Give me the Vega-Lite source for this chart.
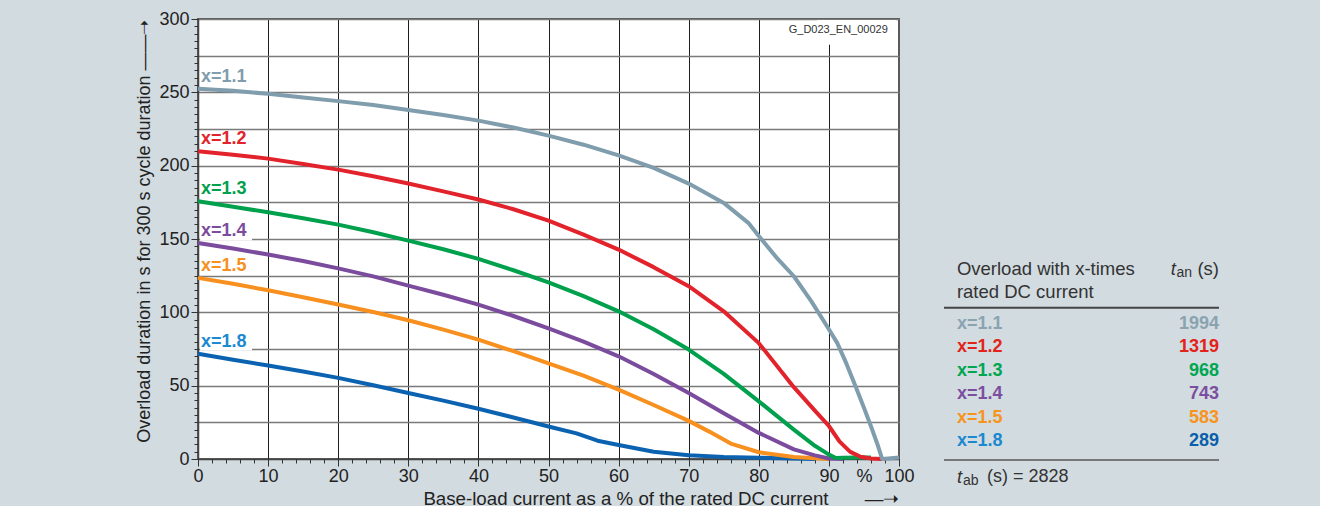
{
  "$schema": "https://vega.github.io/schema/vega-lite/v6.json",
  "background": "#d2dbe0",
  "padding": {"left": 134, "top": 9, "right": 100, "bottom": 10},
  "config": {"font": "Liberation Sans", "view": {"stroke": null}},
  "datasets": {
    "curves": [
      {"s": "x=1.8", "x": 0, "y": 71.7}, {"s": "x=1.8", "x": 5, "y": 67.7}, {"s": "x=1.8", "x": 10, "y": 63.7}, {"s": "x=1.8", "x": 15, "y": 59.6}, {"s": "x=1.8", "x": 20, "y": 55.3}, {"s": "x=1.8", "x": 25, "y": 50.3}, {"s": "x=1.8", "x": 30, "y": 45}, {"s": "x=1.8", "x": 35, "y": 39.8}, {"s": "x=1.8", "x": 40, "y": 34.3}, {"s": "x=1.8", "x": 45, "y": 28.3}, {"s": "x=1.8", "x": 50, "y": 22.2}, {"s": "x=1.8", "x": 54, "y": 17.5}, {"s": "x=1.8", "x": 57, "y": 12.5}, {"s": "x=1.8", "x": 60, "y": 9.6}, {"s": "x=1.8", "x": 65, "y": 5}, {"s": "x=1.8", "x": 70, "y": 2.6}, {"s": "x=1.8", "x": 75, "y": 1.4}, {"s": "x=1.8", "x": 80, "y": 0.9}, {"s": "x=1.8", "x": 85, "y": 0.4}, {"s": "x=1.8", "x": 88, "y": 0},
      {"s": "x=1.5", "x": 0, "y": 123.5}, {"s": "x=1.5", "x": 5, "y": 119.5}, {"s": "x=1.5", "x": 10, "y": 115}, {"s": "x=1.5", "x": 15, "y": 110.3}, {"s": "x=1.5", "x": 20, "y": 105.3}, {"s": "x=1.5", "x": 25, "y": 100.2}, {"s": "x=1.5", "x": 30, "y": 94.6}, {"s": "x=1.5", "x": 35, "y": 88.2}, {"s": "x=1.5", "x": 40, "y": 81.4}, {"s": "x=1.5", "x": 45, "y": 73.5}, {"s": "x=1.5", "x": 50, "y": 65.2}, {"s": "x=1.5", "x": 55, "y": 56.8}, {"s": "x=1.5", "x": 60, "y": 47.3}, {"s": "x=1.5", "x": 65, "y": 36.8}, {"s": "x=1.5", "x": 70, "y": 26}, {"s": "x=1.5", "x": 73, "y": 18.5}, {"s": "x=1.5", "x": 76, "y": 10.5}, {"s": "x=1.5", "x": 80, "y": 4.6}, {"s": "x=1.5", "x": 85, "y": 1.4}, {"s": "x=1.5", "x": 90, "y": 0},
      {"s": "x=1.4", "x": 0, "y": 147.3}, {"s": "x=1.4", "x": 5, "y": 143.5}, {"s": "x=1.4", "x": 10, "y": 139.4}, {"s": "x=1.4", "x": 15, "y": 135}, {"s": "x=1.4", "x": 20, "y": 130}, {"s": "x=1.4", "x": 25, "y": 124.5}, {"s": "x=1.4", "x": 30, "y": 118.2}, {"s": "x=1.4", "x": 35, "y": 112}, {"s": "x=1.4", "x": 40, "y": 105.3}, {"s": "x=1.4", "x": 45, "y": 97.5}, {"s": "x=1.4", "x": 50, "y": 89}, {"s": "x=1.4", "x": 55, "y": 80}, {"s": "x=1.4", "x": 60, "y": 70}, {"s": "x=1.4", "x": 65, "y": 58}, {"s": "x=1.4", "x": 70, "y": 45}, {"s": "x=1.4", "x": 75, "y": 31.2}, {"s": "x=1.4", "x": 80, "y": 17.8}, {"s": "x=1.4", "x": 85, "y": 6.6}, {"s": "x=1.4", "x": 88, "y": 2.5}, {"s": "x=1.4", "x": 90, "y": 0.3}, {"s": "x=1.4", "x": 92, "y": 0},
      {"s": "x=1.3", "x": 0, "y": 175.7}, {"s": "x=1.3", "x": 5, "y": 172}, {"s": "x=1.3", "x": 10, "y": 168.2}, {"s": "x=1.3", "x": 15, "y": 164.2}, {"s": "x=1.3", "x": 20, "y": 159.8}, {"s": "x=1.3", "x": 25, "y": 154.6}, {"s": "x=1.3", "x": 30, "y": 148.9}, {"s": "x=1.3", "x": 35, "y": 143}, {"s": "x=1.3", "x": 40, "y": 136.4}, {"s": "x=1.3", "x": 45, "y": 128.7}, {"s": "x=1.3", "x": 50, "y": 120.5}, {"s": "x=1.3", "x": 55, "y": 111}, {"s": "x=1.3", "x": 60, "y": 100.7}, {"s": "x=1.3", "x": 65, "y": 88.5}, {"s": "x=1.3", "x": 70, "y": 74.6}, {"s": "x=1.3", "x": 75, "y": 58}, {"s": "x=1.3", "x": 80, "y": 39.3}, {"s": "x=1.3", "x": 85, "y": 20}, {"s": "x=1.3", "x": 88, "y": 9}, {"s": "x=1.3", "x": 90, "y": 3}, {"s": "x=1.3", "x": 91, "y": 0.6}, {"s": "x=1.3", "x": 92, "y": 0.8}, {"s": "x=1.3", "x": 94, "y": 1}, {"s": "x=1.3", "x": 96, "y": 1},
      {"s": "x=1.2", "x": 0, "y": 209.8}, {"s": "x=1.2", "x": 5, "y": 207.5}, {"s": "x=1.2", "x": 10, "y": 204.8}, {"s": "x=1.2", "x": 15, "y": 201.2}, {"s": "x=1.2", "x": 20, "y": 197.3}, {"s": "x=1.2", "x": 25, "y": 192.8}, {"s": "x=1.2", "x": 30, "y": 187.8}, {"s": "x=1.2", "x": 35, "y": 182.5}, {"s": "x=1.2", "x": 40, "y": 176.9}, {"s": "x=1.2", "x": 45, "y": 170.3}, {"s": "x=1.2", "x": 50, "y": 162.5}, {"s": "x=1.2", "x": 55, "y": 153}, {"s": "x=1.2", "x": 60, "y": 142.8}, {"s": "x=1.2", "x": 65, "y": 130.8}, {"s": "x=1.2", "x": 70, "y": 117.8}, {"s": "x=1.2", "x": 75, "y": 100.7}, {"s": "x=1.2", "x": 80, "y": 79}, {"s": "x=1.2", "x": 85, "y": 49}, {"s": "x=1.2", "x": 88, "y": 33}, {"s": "x=1.2", "x": 90, "y": 22.5}, {"s": "x=1.2", "x": 91.5, "y": 12}, {"s": "x=1.2", "x": 93, "y": 5}, {"s": "x=1.2", "x": 94.5, "y": 1.5}, {"s": "x=1.2", "x": 96, "y": 0.4}, {"s": "x=1.2", "x": 97.6, "y": 0},
      {"s": "x=1.1", "x": 0, "y": 252.5}, {"s": "x=1.1", "x": 5, "y": 251}, {"s": "x=1.1", "x": 10, "y": 249}, {"s": "x=1.1", "x": 15, "y": 246.5}, {"s": "x=1.1", "x": 20, "y": 244}, {"s": "x=1.1", "x": 25, "y": 241.3}, {"s": "x=1.1", "x": 30, "y": 238}, {"s": "x=1.1", "x": 35, "y": 234.5}, {"s": "x=1.1", "x": 40, "y": 230.7}, {"s": "x=1.1", "x": 45, "y": 226}, {"s": "x=1.1", "x": 50, "y": 220.5}, {"s": "x=1.1", "x": 55, "y": 214.3}, {"s": "x=1.1", "x": 60, "y": 207}, {"s": "x=1.1", "x": 65, "y": 198.5}, {"s": "x=1.1", "x": 70, "y": 187.8}, {"s": "x=1.1", "x": 75, "y": 174.6}, {"s": "x=1.1", "x": 78.5, "y": 161}, {"s": "x=1.1", "x": 80, "y": 152}, {"s": "x=1.1", "x": 82.5, "y": 137.5}, {"s": "x=1.1", "x": 85, "y": 124.6}, {"s": "x=1.1", "x": 87.5, "y": 107.5}, {"s": "x=1.1", "x": 90, "y": 88.5}, {"s": "x=1.1", "x": 91.2, "y": 79}, {"s": "x=1.1", "x": 92.5, "y": 65}, {"s": "x=1.1", "x": 93.8, "y": 49.6}, {"s": "x=1.1", "x": 95, "y": 35}, {"s": "x=1.1", "x": 96, "y": 22.3}, {"s": "x=1.1", "x": 97, "y": 9}, {"s": "x=1.1", "x": 97.6, "y": 0}, {"s": "x=1.1", "x": 98.5, "y": 0.4}, {"s": "x=1.1", "x": 100, "y": 1}
    ],
    "table": [
      {"label": "x=1.1", "tan": 1994, "rank": 1},
      {"label": "x=1.2", "tan": 1319, "rank": 2},
      {"label": "x=1.3", "tan": 968, "rank": 3},
      {"label": "x=1.4", "tan": 743, "rank": 4},
      {"label": "x=1.5", "tan": 583, "rank": 5},
      {"label": "x=1.8", "tan": 289, "rank": 6}
    ]
  },
  "spacing": 27,
  "resolve": {"scale": {"color": "independent"}},
  "hconcat": [
    {
      "width": 701,
      "height": 440,
      "view": {"fill": "white", "stroke": "#5a5a5a", "strokeWidth": 2},
      "resolve": {"axis": {"x": "independent", "y": "independent"}, "scale": {"color": "independent"}},
      "layer": [
        {
          "data": {"values": [{}]},
          "mark": {"type": "rect", "fill": "white"},
          "encoding": {
            "x": {"datum": 88.3, "type": "quantitative", "scale": {"domain": [0, 100], "nice": false, "zero": false}, "axis": null},
            "x2": {"datum": 99.6},
            "y": {"datum": 282.5, "type": "quantitative", "scale": {"domain": [0, 300], "nice": false, "zero": false}, "axis": null},
            "y2": {"datum": 299.4}
          }
        },
        {
          "data": {"values": [{}]},
          "mark": {"type": "rect", "fill": "white"},
          "encoding": {
            "x": {"datum": 0.3, "type": "quantitative", "axis": null},
            "x2": {"datum": 7.7},
            "y": {"datum": 149, "type": "quantitative", "axis": null},
            "y2": {"datum": 156}
          }
        },
        {
          "data": {"values": [{}]},
          "mark": {"type": "rect", "fill": "white"},
          "encoding": {
            "x": {"datum": 0.3, "type": "quantitative", "axis": null},
            "x2": {"datum": 7.7},
            "y": {"datum": 74, "type": "quantitative", "axis": null},
            "y2": {"datum": 81}
          }
        },
        {
          "data": {"name": "curves"},
          "mark": {"type": "line", "strokeWidth": 4, "strokeJoin": "round"},
          "encoding": {
            "x": {
              "field": "x", "type": "quantitative",
              "axis": {
                "orient": "bottom",
                "values": [0, 10, 20, 30, 40, 50, 60, 70, 80, 90, 95, 100],
                "labelExpr": "datum.value == 95 ? '%' : datum.label",
                "labelFontSize": 18, "labelColor": "#222", "labelFlush": false, "labelPadding": 1, "labelOverlap": false,
                "tickSize": 7, "tickColor": "#333",
                "tickOpacity": {"condition": {"test": "datum.value == 95", "value": 0}, "value": 1},
                "domain": true, "domainColor": "#444", "domainWidth": 1.5,
                "grid": true, "gridColor": "#1e1e1e", "gridWidth": 1,
                "gridOpacity": {"condition": {"test": "datum.value == 95 || datum.value == 100 || datum.value == 0", "value": 0}, "value": 1},
                "title": "Base-load current as a % of the rated DC current\u00a0\u00a0\u00a0\u00a0\u00a0\u00a0\u00a0\u2014\u279d",
                "titleAnchor": "end", "titleFontSize": 18.7, "titleFontWeight": "normal", "titleColor": "#222", "titlePadding": 4
              }
            },
            "y": {
              "field": "y", "type": "quantitative",
              "axis": {
                "orient": "left",
                "values": [0, 25, 50, 75, 100, 125, 150, 175, 200, 225, 250, 275, 300],
                "labelExpr": "datum.value % 50 == 0 ? datum.label : ''",
                "labelFontSize": 18, "labelColor": "#222", "labelPadding": 2, "labelOverlap": false,
                "tickSize": 7, "tickColor": "#333",
                "tickOpacity": {"condition": {"test": "datum.value % 50 != 0", "value": 0}, "value": 1},
                "grid": true, "gridColor": "#7a7a7a", "gridWidth": 1.5,
                "gridOpacity": {"condition": {"test": "datum.value == 0", "value": 0}, "value": 1},
                "domain": true, "domainColor": "#444", "domainWidth": 1.5,
                "title": "Overload duration in s for 300 s cycle duration \u2014\u2014\u279d",
                "titleAnchor": "end", "titleFontSize": 18, "titleFontWeight": "normal", "titleColor": "#222", "titlePadding": 5
              }
            },
            "color": {
              "field": "s", "type": "nominal", "legend": null,
              "scale": {"domain": ["x=1.1", "x=1.2", "x=1.3", "x=1.4", "x=1.5", "x=1.8"], "range": ["#7f9dac", "#e3232c", "#00a04d", "#7b4c9e", "#f7901e", "#0b62b0"]}
            }
          }
        },
        {
          "data": {"name": "curves"},
          "transform": [{"filter": "datum.x == 0"}],
          "mark": {"type": "text", "align": "left", "baseline": "middle", "dx": 3, "dy": -12, "fontWeight": "bold", "fontSize": 18},
          "encoding": {
            "x": {
              "field": "x", "type": "quantitative",
              "axis": {"orient": "bottom", "values": [0, 2, 4, 6, 8, 10, 12, 14, 16, 18, 20, 22, 24, 26, 28, 30, 32, 34, 36, 38, 40, 42, 44, 46, 48, 50, 52, 54, 56, 58, 60, 62, 64, 66, 68, 70, 72, 74, 76, 78, 80, 82, 84, 86, 88, 90, 92, 94, 96, 98, 100], "tickSize": 4, "tickColor": "#333", "labels": false, "domain": false, "grid": false, "title": null}
            },
            "y": {
              "field": "y", "type": "quantitative",
              "axis": {"orient": "left", "values": [0, 5, 10, 15, 20, 25, 30, 35, 40, 45, 50, 55, 60, 65, 70, 75, 80, 85, 90, 95, 100, 105, 110, 115, 120, 125, 130, 135, 140, 145, 150, 155, 160, 165, 170, 175, 180, 185, 190, 195, 200, 205, 210, 215, 220, 225, 230, 235, 240, 245, 250, 255, 260, 265, 270, 275, 280, 285, 290, 295, 300], "tickSize": 4, "tickColor": "#333", "labels": false, "domain": false, "grid": false, "title": null}
            },
            "text": {"field": "s"},
            "color": {
              "field": "s", "type": "nominal", "legend": null,
              "scale": {"domain": ["x=1.1", "x=1.2", "x=1.3", "x=1.4", "x=1.5", "x=1.8"], "range": ["#7f9dac", "#e3232c", "#00a04d", "#7b4c9e", "#f7901e", "#1b89d0"]}
            }
          }
        },
        {
          "data": {"values": [{}]},
          "mark": {"type": "text", "text": "G_D023_EN_00029", "align": "right", "baseline": "middle", "fontSize": 11, "color": "#333"},
          "encoding": {
            "x": {"datum": 98.4, "type": "quantitative", "axis": null},
            "y": {"datum": 292.8, "type": "quantitative", "axis": null}
          }
        }
      ]
    },
    {
      "width": 275,
      "height": 440,
      "data": {"name": "table"},
      "resolve": {"scale": {"color": "independent"}},
      "layer": [
        {
          "mark": {"type": "text", "align": "left", "baseline": "middle", "fontWeight": "bold", "fontSize": 18},
          "encoding": {
            "x": {"datum": 0.047, "type": "quantitative", "scale": {"domain": [0, 1], "nice": false, "zero": false}, "axis": null},
            "y": {"field": "rank", "type": "quantitative", "scale": {"domain": [-12.034, 6.769], "reverse": true, "nice": false, "zero": false}, "axis": null},
            "text": {"field": "label"},
            "color": {"field": "label", "type": "nominal", "legend": null, "scale": {"domain": ["x=1.1", "x=1.2", "x=1.3", "x=1.4", "x=1.5", "x=1.8"], "range": ["#8aa3b1", "#e2231a", "#00a650", "#7c4ea0", "#f7941d", "#1b89d0"]}}
          }
        },
        {
          "mark": {"type": "text", "align": "right", "baseline": "middle", "fontWeight": "bold", "fontSize": 18},
          "encoding": {
            "x": {"datum": 1, "type": "quantitative", "axis": null},
            "y": {"field": "rank", "type": "quantitative", "axis": null},
            "text": {"field": "tan"},
            "color": {"field": "label", "type": "nominal", "legend": null, "scale": {"domain": ["x=1.1", "x=1.2", "x=1.3", "x=1.4", "x=1.5", "x=1.8"], "range": ["#8aa3b1", "#e2231a", "#00a650", "#7c4ea0", "#f7941d", "#0b5ea8"]}}
          }
        },
        {
          "data": {"values": [{}]},
          "mark": {"type": "text", "text": ["Overload with x-times", "rated DC current"], "lineHeight": 22.4, "align": "left", "baseline": "middle", "fontSize": 18.5, "color": "#333"},
          "encoding": {"x": {"datum": 0.047, "type": "quantitative", "axis": null}, "y": {"datum": -1.338, "type": "quantitative", "axis": null}}
        },
        {
          "data": {"values": [{}]},
          "mark": {"type": "text", "text": "(s)", "align": "right", "baseline": "middle", "fontSize": 18.5, "color": "#333"},
          "encoding": {"x": {"datum": 1, "type": "quantitative", "axis": null}, "y": {"datum": -1.338, "type": "quantitative", "axis": null}}
        },
        {
          "data": {"values": [{}]},
          "mark": {"type": "text", "text": "an", "align": "right", "baseline": "middle", "dx": -27, "dy": 4, "fontSize": 14, "color": "#333"},
          "encoding": {"x": {"datum": 1, "type": "quantitative", "axis": null}, "y": {"datum": -1.338, "type": "quantitative", "axis": null}}
        },
        {
          "data": {"values": [{}]},
          "mark": {"type": "text", "text": "t", "align": "right", "baseline": "middle", "dx": -43, "fontSize": 18.5, "fontStyle": "italic", "color": "#333"},
          "encoding": {"x": {"datum": 1, "type": "quantitative", "axis": null}, "y": {"datum": -1.338, "type": "quantitative", "axis": null}}
        },
        {
          "data": {"values": [{}]},
          "mark": {"type": "rule", "color": "#444", "strokeWidth": 2},
          "encoding": {"x": {"datum": 0, "type": "quantitative", "axis": null}, "x2": {"datum": 1}, "y": {"datum": 0.303, "type": "quantitative", "axis": null}}
        },
        {
          "data": {"values": [{}]},
          "mark": {"type": "rule", "color": "#777", "strokeWidth": 2},
          "encoding": {"x": {"datum": 0, "type": "quantitative", "axis": null}, "x2": {"datum": 1}, "y": {"datum": 6.81, "type": "quantitative", "axis": null}}
        },
        {
          "data": {"values": [{}]},
          "mark": {"type": "text", "text": "t", "align": "left", "baseline": "middle", "fontSize": 18.5, "fontStyle": "italic", "color": "#333"},
          "encoding": {"x": {"datum": 0.047, "type": "quantitative", "axis": null}, "y": {"datum": 7.53, "type": "quantitative", "axis": null}}
        },
        {
          "data": {"values": [{}]},
          "mark": {"type": "text", "text": "ab", "align": "left", "baseline": "middle", "dx": 6, "dy": 4, "fontSize": 14, "color": "#333"},
          "encoding": {"x": {"datum": 0.047, "type": "quantitative", "axis": null}, "y": {"datum": 7.53, "type": "quantitative", "axis": null}}
        },
        {
          "data": {"values": [{}]},
          "mark": {"type": "text", "text": "(s) = 2828", "align": "left", "baseline": "middle", "dx": 30, "fontSize": 18, "color": "#333"},
          "encoding": {"x": {"datum": 0.047, "type": "quantitative", "axis": null}, "y": {"datum": 7.53, "type": "quantitative", "axis": null}}
        }
      ]
    }
  ]
}
